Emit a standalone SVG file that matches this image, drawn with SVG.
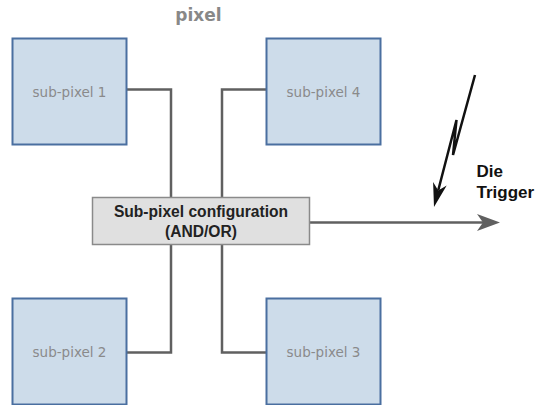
<svg xmlns="http://www.w3.org/2000/svg" width="535" height="405" viewBox="0 0 535 405">
<style>
.sub{fill:#cddcea;stroke:#4a6fa0;stroke-width:2}
.sublbl{font-family:"DejaVu Sans",sans-serif;font-size:13.5px;fill:#8a8a8a;text-anchor:middle}
.conn{fill:none;stroke:#606060;stroke-width:2.5}
.bold{font-family:"Liberation Sans",Arial,sans-serif;font-weight:bold}
</style>
<rect width="535" height="405" fill="#ffffff"/>
<text x="198.5" y="21" style="font-family:'DejaVu Sans',sans-serif;font-weight:bold;font-size:17px;fill:#888888" text-anchor="middle">pixel</text>
<g id="connectors">
<path class="conn" d="M126.5 89.5 H171 V197.5"/>
<path class="conn" d="M266 89.5 H222 V197.5"/>
<path class="conn" d="M126.5 352.5 H171 V244.5"/>
<path class="conn" d="M266 352.5 H222 V244.5"/>
<path class="conn" d="M310 222.5 H490"/>
<path d="M500 222.5 L477 214 L483 222.5 L477 231 Z" fill="#606060"/>
</g>
<g id="sub1"><rect class="sub" x="12.5" y="38.5" width="114" height="106"/><text class="sublbl" x="69.5" y="97">sub-pixel 1</text></g>
<g id="sub4"><rect class="sub" x="266.5" y="38.5" width="114" height="106"/><text class="sublbl" x="323.5" y="97">sub-pixel 4</text></g>
<g id="sub2"><rect class="sub" x="12.5" y="298.5" width="114" height="106"/><text class="sublbl" x="69.5" y="357">sub-pixel 2</text></g>
<g id="sub3"><rect class="sub" x="266.5" y="298.5" width="114" height="106"/><text class="sublbl" x="323.5" y="357">sub-pixel 3</text></g>
<g id="config">
<rect x="92.5" y="197.5" width="217" height="47" fill="#e0e0e0" stroke="#8a8a8a" stroke-width="1.5"/>
<text class="bold" x="201" y="217" font-size="15.6" fill="#222" text-anchor="middle">Sub-pixel configuration</text>
<text class="bold" x="201" y="237" font-size="15.6" fill="#222" text-anchor="middle">(AND/OR)</text>
</g>
<g id="trigger">
<polyline points="475,75 453,155 456.5,120 438.2,190.5" fill="none" stroke="#111" stroke-width="2.5" stroke-linejoin="miter" stroke-miterlimit="10"/>
<path d="M434 207 L446.7 185.4 L438.2 190.5 L433.1 182 Z" fill="#111"/>
<text class="bold" x="476.5" y="177" font-size="17" fill="#111">Die</text>
<text class="bold" x="476.5" y="198" font-size="17" fill="#111">Trigger</text>
</g>
</svg>
